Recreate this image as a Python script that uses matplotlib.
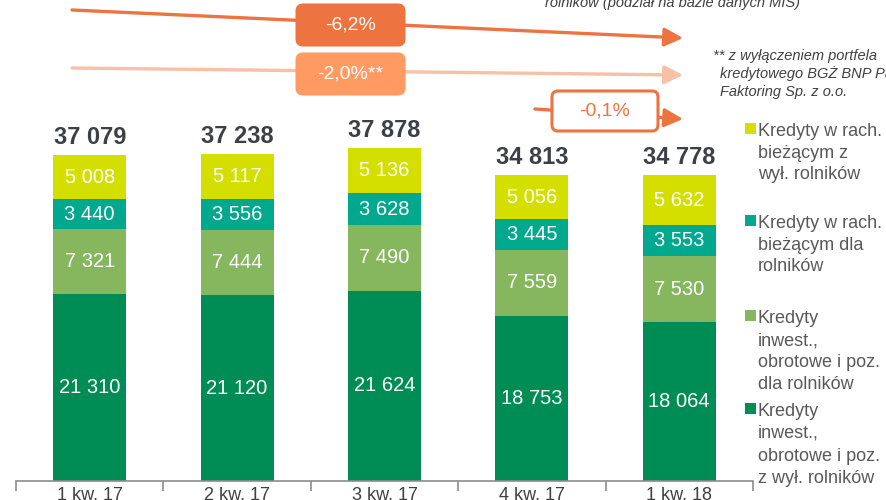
import matplotlib
matplotlib.use("Agg")
import matplotlib.pyplot as plt
from matplotlib.patches import FancyBboxPatch, FancyArrowPatch, Rectangle, ArrowStyle
from matplotlib.transforms import Affine2D

plt.rcParams['font.family'] = ['Liberation Sans', 'DejaVu Sans']

categories = ['1 kw. 17', '2 kw. 17', '3 kw. 17', '4 kw. 17', '1 kw. 18']
inwest_z_wyl = [21310, 21120, 21624, 18753, 18064]
inwest_rolnicy = [7321, 7444, 7490, 7559, 7530]
rach_rolnicy = [3440, 3556, 3628, 3445, 3553]
rach_z_wyl = [5008, 5117, 5136, 5056, 5632]
totals = [37079, 37238, 37878, 34813, 34778]

series = [inwest_z_wyl, inwest_rolnicy, rach_rolnicy, rach_z_wyl]
colors = ['#008C55', '#86B75E', '#00A88E', '#D4DF00']
legend_labels = [
    ['Kredyty', 'inwest.,', 'obrotowe i poz.', 'z wył. rolników'],
    ['Kredyty', 'inwest.,', 'obrotowe i poz.', 'dla rolników'],
    ['Kredyty w rach.', 'bieżącym dla', 'rolników'],
    ['Kredyty w rach.', 'bieżącym z', 'wył. rolników'],
]

W, H = 887, 500
fig = plt.figure(figsize=(W / 100, H / 100), dpi=100)
# pixel transform (origin bottom-left)
PX = Affine2D().scale(0.01) + fig.dpi_scale_trans


def yb(y):
    return H - y


ax = fig.add_axes([16 / W, 19 / H, 737 / W, 481 / H])
ax.set_xlim(-0.5, len(categories) - 0.5)
ax.set_ylim(0, 481 * 113.75)

fmt = lambda v: f"{v:,}".replace(',', ' ')
x = list(range(len(categories)))
bottom = [0] * len(categories)
for vals, col in zip(series, colors):
    ax.bar(x, vals, width=0.495, bottom=bottom, color=col, linewidth=0)
    for xi, b, v in zip(x, bottom, vals):
        ax.text(xi, b + v / 2, fmt(v), ha='center', va='center', color='white', fontsize=14.5)
    bottom = [b + v for b, v in zip(bottom, vals)]

for xi, t, top in zip(x, totals, bottom):
    ax.annotate(fmt(t), (xi, top), xytext=(0, 8), textcoords='offset points',
                ha='center', va='baseline', fontsize=17, fontweight='bold', color='#3C3F45')

for s in ['top', 'left', 'right']:
    ax.spines[s].set_visible(False)
ax.spines['bottom'].set_color('#8C8C8C')
ax.spines['bottom'].set_linewidth(1.2)
ax.set_yticks([])
ax.set_xticks(x)
ax.set_xticklabels(categories, fontsize=13, color='#404040')
ax.tick_params(axis='x', which='major', length=0, pad=4)
ax.set_xticks([i - 0.5 for i in range(len(categories) + 1)], minor=True)
ax.tick_params(axis='x', which='minor', length=7, width=1.2, color='#8C8C8C')

# Arrows
style = ArrowStyle('-|>', head_length=0.8, head_width=0.4)
arrows = [
    ((72, 10), (683, 38), '#ED7341'),
    ((72, 68), (683, 75), '#F8C0A5'),
    ((535, 109), (683, 119), '#ED7341'),
]
for (x0, y0), (x1, y1), c in arrows:
    fig.add_artist(FancyArrowPatch((x0, yb(y0)), (x1, yb(y1)), transform=PX,
                                   arrowstyle=style, mutation_scale=14, color=c,
                                   linewidth=2.4, shrinkA=0, shrinkB=0, zorder=2))

boxes = [
    (297, 5, 107, 40, '#ED7341', '#ED7341', '-6,2%', 'white'),
    (297, 54, 107, 40, '#FF9A62', '#FF9A62', '-2,0%**', 'white'),
    (552, 91, 106, 40, 'white', '#ED7341', '-0,1%', '#ED7341'),
]
for bx, by, bw, bh, fc, ec, label, tc in boxes:
    fig.add_artist(FancyBboxPatch((bx + 5, yb(by + bh) + 5), bw - 10, bh - 10,
                                  boxstyle='round,pad=5,rounding_size=6',
                                  transform=PX, facecolor=fc, edgecolor=ec,
                                  linewidth=2.2, zorder=3))
    fig.text((bx + bw / 2) / W, 1 - (by + bh / 2) / H, label, ha='center', va='center',
             color=tc, fontsize=14, zorder=4)

# Notes
note_col = '#404040'
fig.text(545 / W, 1 - 3 / H, 'rolników (podział na bazie danych MIS)', ha='left', va='center',
         fontsize=10.5, style='italic', color=note_col)
fig.text(713 / W, 1 - 56 / H, '** z wyłączeniem portfela', ha='left', va='center',
         fontsize=10.5, style='italic', color=note_col)
fig.text(720 / W, 1 - 74 / H, 'kredytowego BGŻ BNP Paribas', ha='left', va='center',
         fontsize=10.5, style='italic', color=note_col)
fig.text(720 / W, 1 - 92 / H, 'Faktoring Sp. z o.o.', ha='left', va='center',
         fontsize=10.5, style='italic', color=note_col)

# Legend (manual)
entries = [
    (colors[3], legend_labels[3], [130, 152, 173]),
    (colors[2], legend_labels[2], [222, 244, 265]),
    (colors[1], legend_labels[1], [317, 339, 361, 383]),
    (colors[0], legend_labels[0], [410, 432, 455, 477]),
]
for col, lines, ys in entries:
    fig.add_artist(Rectangle((745, yb(ys[0] + 4)), 11, 11, transform=PX, facecolor=col,
                             edgecolor='none'))
    for line, yy in zip(lines, ys):
        fig.text(758 / W, 1 - (yy + 6) / H, line, ha='left', va='baseline',
                 fontsize=13, color='#595959')

fig.savefig('out.png', dpi=100)
